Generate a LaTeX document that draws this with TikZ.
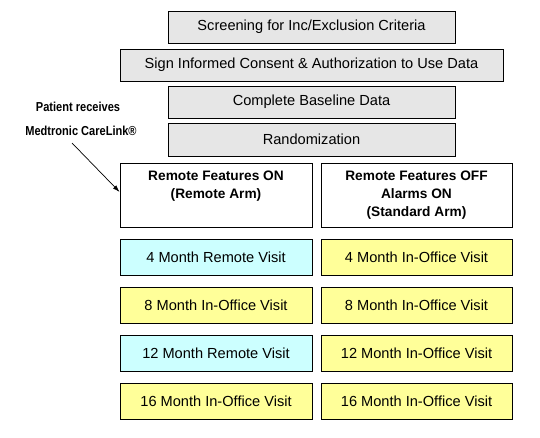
\documentclass[tikz,border=0pt]{standalone}
\usepackage{fontspec}
\setmainfont{Liberation Sans}
\usepackage{graphicx}
\usetikzlibrary{arrows.meta,calc}
\definecolor{boxgray}{HTML}{E6E6E6}
\definecolor{remotecyan}{HTML}{CCFFFF}
\definecolor{officeyellow}{HTML}{FFFF99}
\tikzset{
  x=1pt,y=1pt,
  base/.style={draw=black,line width=0.8pt,inner sep=0pt,font=\fontsize{14.6}{16}\selectfont},
  topbox/.style={base,fill=boxgray,minimum height=32pt},
  armbox/.style={base,fill=white,minimum width=192pt,minimum height=64pt},
  armtext/.style={align=center,anchor=north,inner sep=0pt,font=\bfseries\fontsize{13.7}{18}\selectfont},
  remotevisit/.style={base,fill=remotecyan,minimum width=192pt,minimum height=36pt},
  officevisit/.style={base,fill=officeyellow,minimum width=192pt,minimum height=36pt},
  notetext/.style={inner sep=0pt,font=\bfseries\fontsize{13}{15}\selectfont},
}
\begin{document}
\begin{tikzpicture}
\useasboundingbox (0,0) rectangle (540,437);
% top boxes
\node[topbox,minimum width=287pt] (screen) at (311.5,410) {Screening for Inc/Exclusion Criteria};
\node[topbox,minimum width=383pt] (consent) at (311.5,372) {Sign Informed Consent \& Authorization to Use Data};
\node[topbox,minimum width=287pt] (baseline) at (311.5,335) {Complete Baseline Data};
\node[topbox,minimum width=287pt,minimum height=33pt] (random) at (311.5,297.5) {Randomization};
% arms
\node[armbox] (armL) at (216,242) {};
\node[armbox,minimum width=191pt] (armR) at (416.5,242) {};
\node[armtext] (armLt) at ($(armL.north)+(0,-8)$) {Remote Features ON\\(Remote Arm)};
\node[armtext] (armRt) at ($(armR.north)+(0,-8)$) {Remote Features OFF\\Alarms ON\\(Standard Arm)};
% visits
\node[remotevisit] (l4) at (216,180) {4 Month Remote Visit};
\node[officevisit,minimum width=191pt] (r4) at (416.5,180) {4 Month In-Office Visit};
\node[officevisit] (l8) at (216,132) {8 Month In-Office Visit};
\node[officevisit,minimum width=191pt] (r8) at (416.5,132) {8 Month In-Office Visit};
\node[remotevisit] (l12) at (216,83.5) {12 Month Remote Visit};
\node[officevisit,minimum width=191pt] (r12) at (416.5,83.5) {12 Month In-Office Visit};
\node[officevisit] (l16) at (216,35.5) {16 Month In-Office Visit};
\node[officevisit,minimum width=191pt] (r16) at (416.5,35.5) {16 Month In-Office Visit};
% note
\node[notetext] (note1) at (78,330) {\scalebox{0.85}[1]{Patient receives}};
\node[notetext] (note2) at (81,306) {\scalebox{0.85}[1]{Medtronic CareLink®}};
\coordinate (arrstart) at (72,294);
\draw[line width=0.7pt,-{Latex[length=7pt,width=4.5pt]}] (arrstart) -- ($(armL.west)+(0,3)$);
\end{tikzpicture}
\end{document}
